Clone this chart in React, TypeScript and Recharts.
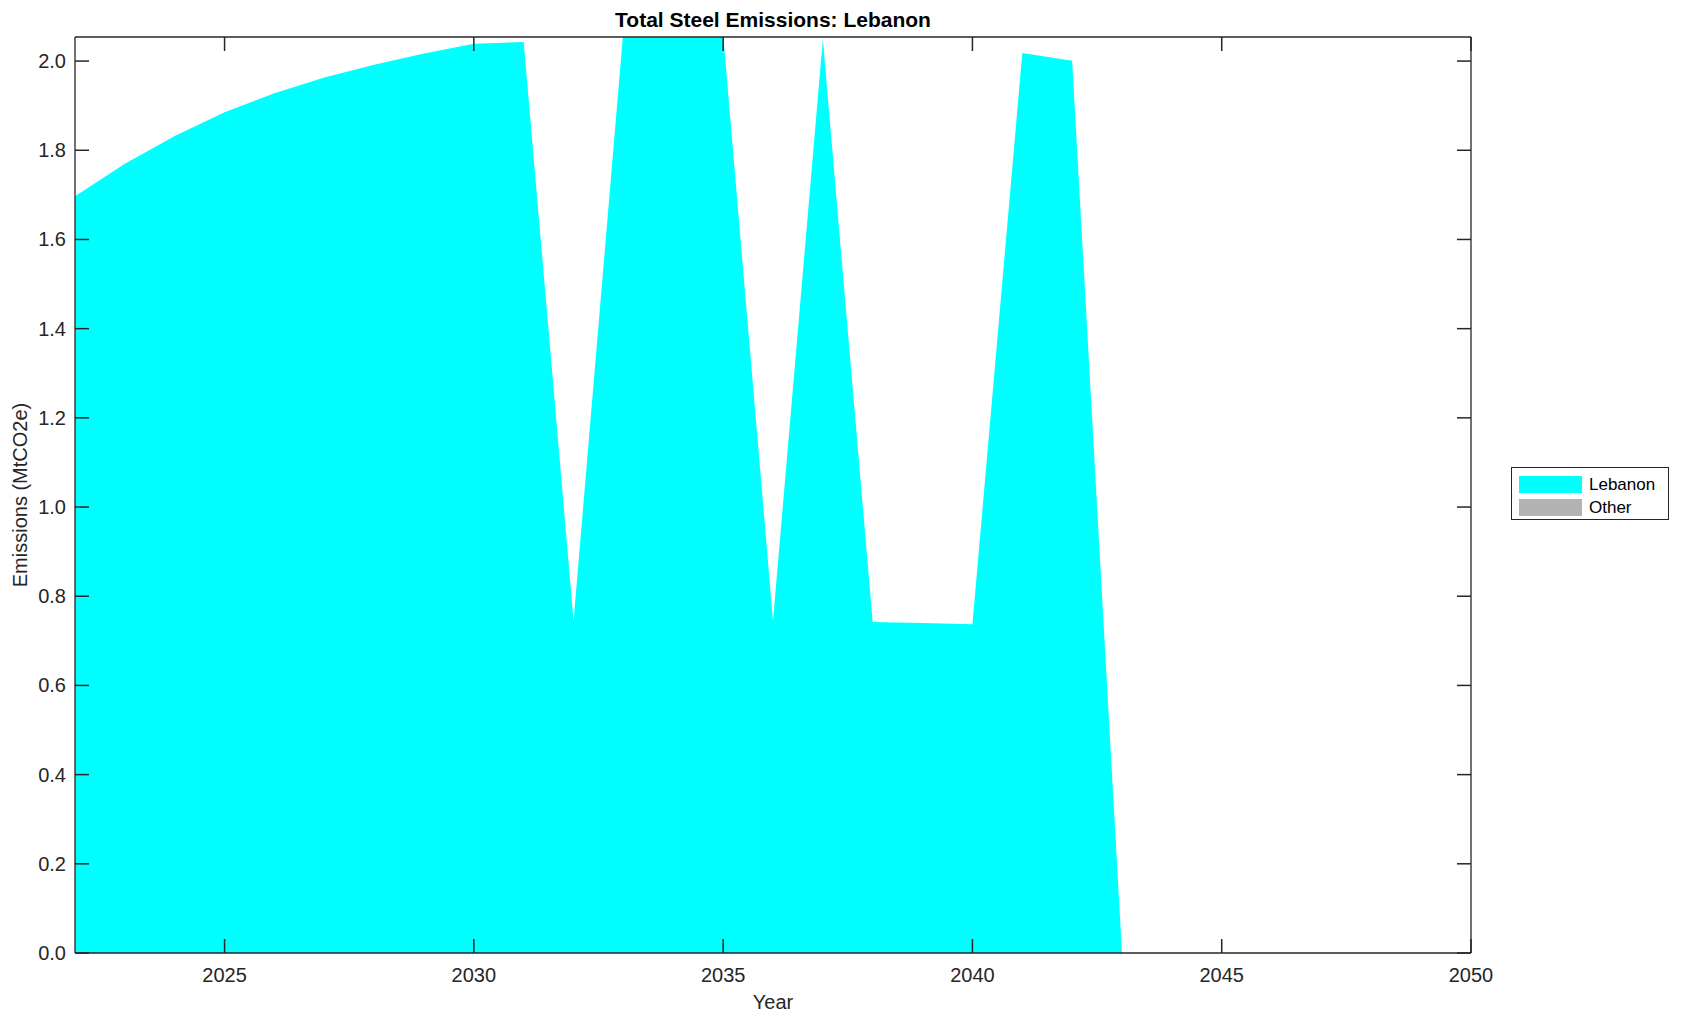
import React from "react";
import { AreaChart, Area, XAxis, YAxis, Legend, Label } from "recharts";

// Years on the x axis
const years = [
  2022, 2023, 2024, 2025, 2026, 2027, 2028, 2029, 2030, 2031,
  2032, 2033, 2034, 2035, 2036, 2037, 2038, 2039, 2040, 2041,
  2042, 2043, 2044, 2045, 2046, 2047, 2048, 2049, 2050,
];

// Emissions (MtCO2e)
const lebanon = [
  1.697, 1.770, 1.832, 1.885, 1.928, 1.963, 1.992, 2.017, 2.039, 2.043,
  0.745, 2.07, 2.08, 2.06, 0.745, 2.049, 0.742, 0.740, 0.737, 2.018,
  2.001, 0, 0, 0, 0, 0, 0, 0, 0,
];
const other = [
  0, 0, 0, 0, 0, 0, 0, 0, 0, 0,
  0, 0, 0, 0, 0, 0, 0, 0, 0, 0,
  0, 0, 0, 0, 0, 0, 0, 0, 0,
];

const xTicks = [2025, 2030, 2035, 2040, 2045, 2050];
const yTicks = [0, 0.2, 0.4, 0.6, 0.8, 1.0, 1.2, 1.4, 1.6, 1.8, 2.0];

const seriesKeys = ["Lebanon", "Other"];
const seriesColors: Record<string, string> = { Lebanon: "#00ffff", Other: "#b3b3b3" };

const data = years.map((year, i) => ({
  year,
  Lebanon: lebanon[i],
  Other: other[i],
}));

const AXIS = "#262626";
const FONT = "'Liberation Sans', Arial, Helvetica, sans-serif";
const TICK_LEN = 14;
const TICK_W = 1.5;
const X_DOMAIN = [2022, 2050];
const Y_DOMAIN = [0, 2.054];

// MATLAB-style ticks: marks point into the plot, labels sit outside
const BottomTick = ({ x, y, payload }: any) => (
  <g>
    <line x1={x} y1={y} x2={x} y2={y - TICK_LEN} stroke={AXIS} strokeWidth={TICK_W} />
    <text x={x} y={y + 29} textAnchor="middle" fill={AXIS} fontSize={20}>
      {payload.value}
    </text>
  </g>
);

const LeftTick = ({ x, y, payload }: any) => (
  <g>
    <line x1={x} y1={y} x2={x + TICK_LEN} y2={y} stroke={AXIS} strokeWidth={TICK_W} />
    <text x={x - 9} y={y} textAnchor="end" dominantBaseline="central" fill={AXIS} fontSize={20}>
      {Number(payload.value).toFixed(1)}
    </text>
  </g>
);

const TopTick = ({ x, y }: any) => (
  <line x1={x} y1={y} x2={x} y2={y + TICK_LEN} stroke={AXIS} strokeWidth={TICK_W} />
);

const RightTick = ({ x, y }: any) => (
  <line x1={x} y1={y} x2={x - TICK_LEN} y2={y} stroke={AXIS} strokeWidth={TICK_W} />
);

const axisLine = { stroke: AXIS, strokeWidth: 1.3 };

// Legend box drawn like MATLAB's boxed legend
const LegendBox = () => (
  <div
    style={{
      border: "1px solid #262626",
      background: "#fff",
      width: 158,
      height: 53,
      boxSizing: "border-box",
      padding: "5px 0 0 7px",
      fontFamily: FONT,
      fontSize: 17,
      color: "#000",
    }}
  >
    {seriesKeys.map((key) => (
      <div key={key} style={{ display: "flex", alignItems: "center", height: 23 }}>
        <span style={{ width: 63, height: 17, background: seriesColors[key], marginRight: 7 }} />
        <span>{key}</span>
      </div>
    ))}
  </div>
);

export default function App() {
  return (
    <div style={{ position: "absolute", left: 0, top: 0, width: 1682, height: 1021, background: "#fff" }}>
      <AreaChart
        width={1682}
        height={1021}
        data={data}
        margin={{ top: 36, right: 210, bottom: 0, left: 0 }}
        style={{ fontFamily: FONT }}
      >
        <Area
          xAxisId="bottom"
          yAxisId="left"
          type="linear"
          dataKey="Lebanon"
          stackId="1"
          stroke="none"
          fill={seriesColors.Lebanon}
          fillOpacity={1}
          isAnimationActive={false}
        />
        <Area
          xAxisId="bottom"
          yAxisId="left"
          type="linear"
          dataKey="Other"
          stackId="1"
          stroke="none"
          fill={seriesColors.Other}
          fillOpacity={1}
          isAnimationActive={false}
        />
        <XAxis
          xAxisId="bottom"
          type="number"
          dataKey="year"
          domain={X_DOMAIN}
          ticks={xTicks}
          allowDataOverflow
          height={68}
          tickSize={0}
          tickMargin={0}
          tickLine={false}
          axisLine={axisLine}
          tick={<BottomTick />}
        >
          <Label
            content={({ viewBox }: any) => (
              <text
                x={viewBox.x + viewBox.width / 2}
                y={1002}
                textAnchor="middle"
                dominantBaseline="central"
                fill={AXIS}
                fontSize={20}
              >
                Year
              </text>
            )}
          />
        </XAxis>
        <XAxis
          xAxisId="top"
          orientation="top"
          type="number"
          dataKey="year"
          domain={X_DOMAIN}
          ticks={xTicks}
          allowDataOverflow
          height={1}
          tickSize={0}
          tickMargin={0}
          tickLine={false}
          axisLine={axisLine}
          tick={<TopTick />}
        >
          <Label
            content={({ viewBox }: any) => (
              <text
                x={viewBox.x + viewBox.width / 2}
                y={19.5}
                textAnchor="middle"
                dominantBaseline="central"
                fill="#000"
                fontSize={21}
                fontWeight="bold"
              >
                Total Steel Emissions: Lebanon
              </text>
            )}
          />
        </XAxis>
        <YAxis
          yAxisId="left"
          type="number"
          domain={Y_DOMAIN}
          ticks={yTicks}
          allowDataOverflow
          width={75}
          tickSize={0}
          tickMargin={0}
          tickLine={false}
          axisLine={axisLine}
          tick={<LeftTick />}
        >
          <Label
            content={({ viewBox }: any) => {
              const cy = viewBox.y + viewBox.height / 2;
              return (
                <text
                  x={19.5}
                  y={cy}
                  transform={`rotate(-90, 19.5, ${cy})`}
                  textAnchor="middle"
                  dominantBaseline="central"
                  fill={AXIS}
                  fontSize={20}
                >
                  Emissions (MtCO2e)
                </text>
              );
            }}
          />
        </YAxis>
        <YAxis
          yAxisId="right"
          orientation="right"
          type="number"
          domain={Y_DOMAIN}
          ticks={yTicks}
          allowDataOverflow
          width={1}
          tickSize={0}
          tickMargin={0}
          tickLine={false}
          axisLine={axisLine}
          tick={<RightTick />}
        />
        <Legend
          layout="vertical"
          align="center"
          verticalAlign="middle"
          content={() => <LegendBox />}
          wrapperStyle={{ position: "absolute", left: 1511, top: 467, width: 160 }}
        />
      </AreaChart>
    </div>
  );
}
